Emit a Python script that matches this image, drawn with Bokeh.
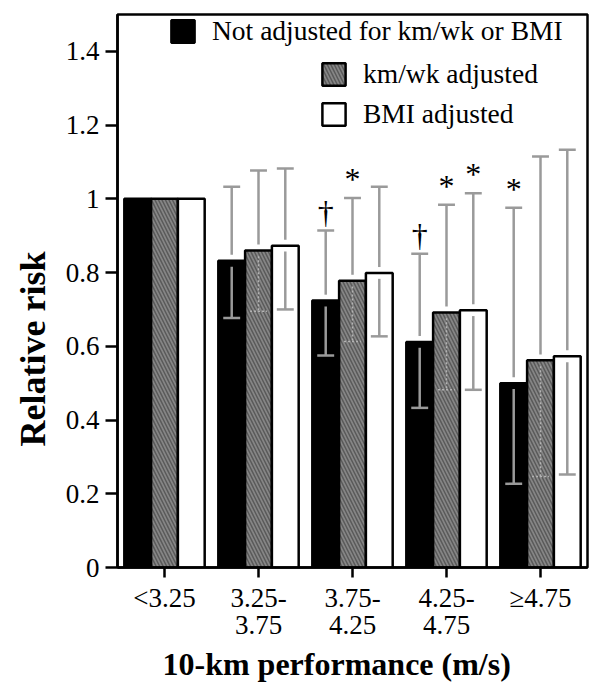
import math
from bokeh.plotting import figure
from bokeh.models import (FixedTicker, Legend, LegendItem, Range1d,
                          ColumnDataSource, Title)
from bokeh.embed import file_html
from bokeh.resources import INLINE
from bokeh.core.properties import value

nan = float("nan")

# ---------------- data ----------------
categories = ["<3.25", "3.25-\n3.75", "3.75-\n4.25", "4.25-\n4.75", "\u22654.75"]
series_names = ["Not adjusted for km/wk or BMI", "km/wk adjusted", "BMI adjusted"]

rr_not_adjusted = [1.0, 0.832, 0.724, 0.612, 0.500]
lo_not_adjusted = [nan, 0.677, 0.575, 0.433, 0.227]
hi_not_adjusted = [nan, 1.033, 0.914, 0.851, 0.976]
marks_not_adjusted = ["", "", "\u2020", "\u2020", "*"]

rr_kmwk = [1.0, 0.860, 0.778, 0.692, 0.562]
lo_kmwk = [nan, 0.695, 0.613, 0.482, 0.247]
hi_kmwk = [nan, 1.077, 1.002, 0.984, 1.115]
marks_kmwk = ["", "", "*", "*", ""]

rr_bmi = [1.0, 0.873, 0.799, 0.698, 0.573]
lo_bmi = [nan, 0.700, 0.627, 0.482, 0.252]
hi_bmi = [nan, 1.082, 1.033, 1.015, 1.133]
marks_bmi = ["", "", "", "*", ""]

y_ticks = [0, 0.2, 0.4, 0.6, 0.8, 1.0, 1.2, 1.4]
y_tick_labels = ["0", "0.2", "0.4", "0.6", "0.8", "1", "1.2", "1.4"]

x_title = "10-km performance (m/s)"
y_title = "Relative risk"

# ---------------- styling ----------------
FONT = "Liberation Serif"
offsets = [-0.285, 0.0, 0.285]
bar_w = 0.285
gap = 0.016
cap_half = 0.09
err_color = "#9a9a9a"

groups = list(range(1, len(categories) + 1))

p = figure(frame_width=470, frame_height=553,
           x_range=Range1d(0.5, 5.5), y_range=Range1d(0, 1.5),
           output_backend="svg", toolbar_location=None,
           min_border_left=117, min_border_right=7,
           min_border_top=14, min_border_bottom=119)
p.xgrid.visible = False
p.ygrid.visible = False
p.outline_line_color = "black"
p.outline_line_width = 2.5
p.background_fill_color = "white"
p.border_fill_color = "white"

# axes
p.xaxis.ticker = FixedTicker(ticks=groups)
p.xaxis.major_label_overrides = {g: c for g, c in zip(groups, categories)}
p.yaxis.ticker = FixedTicker(ticks=y_ticks)
p.yaxis.major_label_overrides = {t: l for t, l in zip(y_ticks, y_tick_labels)}
for ax in (p.xaxis, p.yaxis):
    ax.axis_line_width = 2.5
    ax.axis_line_color = "black"
    ax.major_tick_line_width = 2.5
    ax.major_tick_line_color = "black"
    ax.major_tick_in = 0
    ax.minor_tick_line_color = None
    ax.major_label_text_font = FONT
    ax.major_label_text_color = "black"
p.xaxis.major_label_text_font_size = "27px"
p.xaxis.major_label_text_line_height = 0.9
p.yaxis.major_label_text_font_size = "27px"
p.xaxis.major_tick_out = 10
p.yaxis.major_tick_out = 12
p.xaxis.major_label_standoff = 5
p.yaxis.major_label_standoff = 6

series = [
    dict(rr=rr_not_adjusted, lo=lo_not_adjusted, hi=hi_not_adjusted, marks=marks_not_adjusted,
         fill="black", hatch=None, lo_color=err_color, lo_dash="solid", lo_w=2.5),
    dict(rr=rr_kmwk, lo=lo_kmwk, hi=hi_kmwk, marks=marks_kmwk,
         fill="#868686", hatch="\\", lo_color="#b4b4b4", lo_dash="2 2", lo_w=1.5),
    dict(rr=rr_bmi, lo=lo_bmi, hi=hi_bmi, marks=marks_bmi,
         fill="white", hatch=None, lo_color=err_color, lo_dash="solid", lo_w=2.5),
]

bar_renderers = []
for s, off in zip(series, offsets):
    xs = [g + off for g in groups]
    src = ColumnDataSource(dict(
        x=xs, top=s["rr"], lo=s["lo"], hi=s["hi"], marks=s["marks"],
        up0=[v + gap for v in s["rr"]], dn0=[v - gap for v in s["rr"]],
        cl=[x - cap_half for x in xs], cr=[x + cap_half for x in xs]))
    kw = dict(fill_color=s["fill"], line_color="black", line_width=2.5)
    if s["hatch"]:
        kw.update(hatch_pattern=s["hatch"], hatch_color="#5a5a5a",
                  hatch_weight=1.5, hatch_scale=7)
    r = p.vbar(x="x", top="top", bottom=0, width=bar_w, source=src, **kw)
    bar_renderers.append(r)
    s["src"] = src

for s in series:
    src = s["src"]
    # upper whiskers + caps
    p.segment(x0="x", y0="up0", x1="x", y1="hi", source=src,
              line_color=err_color, line_width=2.5)
    p.segment(x0="cl", y0="hi", x1="cr", y1="hi", source=src,
              line_color=err_color, line_width=2.5)
    # lower whiskers + caps
    p.segment(x0="x", y0="dn0", x1="x", y1="lo", source=src,
              line_color=s["lo_color"], line_width=s["lo_w"], line_dash=s["lo_dash"])
    p.segment(x0="cl", y0="lo", x1="cr", y1="lo", source=src,
              line_color=s["lo_color"], line_width=s["lo_w"], line_dash=s["lo_dash"])
    # significance marks
    p.text(x="x", y="hi", text="marks", source=src, text_font=value(FONT),
           text_font_size="32px", text_align="center", text_baseline="alphabetic",
           y_offset=-19, text_color="black")

# legends (staggered like the reference)
legend_locs = [(51, 520), (202, 477), (202, 437)]
for r, name, loc in zip(bar_renderers, series_names, legend_locs):
    lg = Legend(items=[LegendItem(label=name, renderers=[r])], location=loc,
                glyph_width=29, glyph_height=28, label_standoff=15,
                padding=0, margin=0, spacing=0, label_height=28,
                border_line_color=None, background_fill_alpha=0,
                label_text_font=FONT, label_text_font_size="27.5px",
                label_text_color="black")
    p.add_layout(lg)

# axis titles
p.add_layout(Title(text=y_title, align="left", offset=121, standoff=20,
                   text_font=FONT, text_font_style="bold", text_font_size="36px",
                   text_color="black"), "left")
p.add_layout(Title(text=x_title, align="left", offset=45, standoff=6,
                   vertical_align="top",
                   text_font=FONT, text_font_style="bold", text_font_size="32px",
                   text_color="black"), "below")

open("out.html", "w").write(file_html(p, INLINE))
